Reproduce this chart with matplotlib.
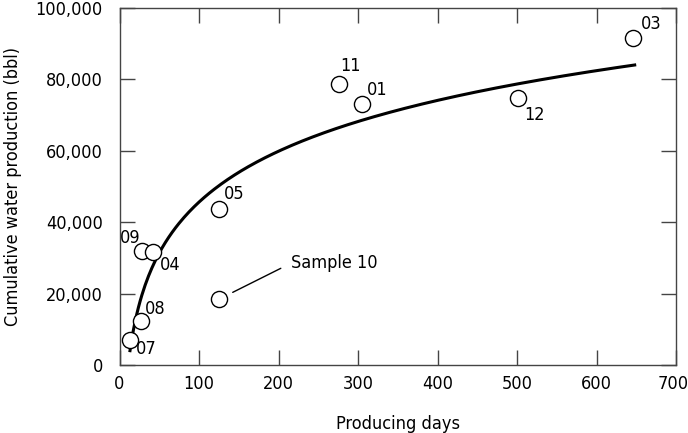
import numpy as np
import matplotlib
matplotlib.use("Agg")
import matplotlib.pyplot as plt
import matplotlib.transforms as mtransforms
from matplotlib.ticker import FuncFormatter

plt.rcParams['font.family'] = ['DejaVu Sans']
plt.rcParams['font.stretch'] = 'condensed'

# well data
well_ids = ['07', '08', '09', '04', '05', 'Sample 10', '11', '01', '12', '03']
producing_days = [13.2, 26.7, 27.9, 41.8, 125.2, 125.2, 276, 304.4, 501, 646.4]
cum_water = [7070, 12370, 31840, 31650, 43770, 18440, 78830, 72990, 74860, 91680]

# label offsets in pixels (dx, dy) from each point
label_offsets = [(16, -9), (14, 12), (-11, 13), (17, -13), (15, 15),
                 (72, 36), (12, 18), (16, 14), (17, -17), (18, 14)]

# logarithmic trend line, y = a*ln(x) + b
trend_a = 20550
trend_b = -49000
trend_range = (13.2, 648)

fig = plt.figure(figsize=(6.88, 4.33), dpi=100)
ax = fig.add_axes([0.1737, 0.1570, 0.8089, 0.8245])

xs = np.linspace(trend_range[0], trend_range[1], 300)
ax.plot(xs, trend_a * np.log(xs) + trend_b, color='black', lw=2.2, zorder=2)

ax.scatter(producing_days, cum_water, s=135, facecolors='white',
           edgecolors='black', linewidths=1.0, zorder=3)

for name, x, y, (dx, dy) in zip(well_ids, producing_days, cum_water, label_offsets):
    if name.startswith('Sample'):
        # label with a leader line
        ax.annotate(name, xy=(x, y), xytext=(dx, dy), textcoords='offset pixels',
                    fontsize=13, ha='left', va='center',
                    arrowprops=dict(arrowstyle='-', color='black', lw=1.0,
                                    relpos=(0, 0.5), shrinkA=6, shrinkB=11))
    else:
        ax.annotate(name, xy=(x, y), xytext=(dx, dy), textcoords='offset pixels',
                    fontsize=13, ha='center', va='center')

ax.set_xlim(0, 700)
ax.set_ylim(0, 100000)
ax.set_xticks(np.arange(0, 701, 100))
ax.set_yticks(np.arange(0, 100001, 20000))
ax.yaxis.set_major_formatter(FuncFormatter(lambda v, p: '{:,.0f}'.format(v)))

ax.tick_params(direction='in', length=11, width=1.0, color='#444444',
               top=True, right=True, labelsize=13)
ax.tick_params(axis='y', pad=12)
ax.tick_params(axis='x', pad=7)
for s in ax.spines.values():
    s.set_color('#444444')
    s.set_linewidth(1.0)

# nudge the last x label so it stays inside the figure
last = ax.get_xticklabels()[-1]
last.set_transform(last.get_transform() +
                   mtransforms.ScaledTranslation(-3 / 100, 0, fig.dpi_scale_trans))

ax.set_xlabel('Producing days', fontsize=13, labelpad=16)
ax.set_ylabel('Cumulative water production (bbl)', fontsize=13, labelpad=10)

fig.savefig('out.png', dpi=100)
